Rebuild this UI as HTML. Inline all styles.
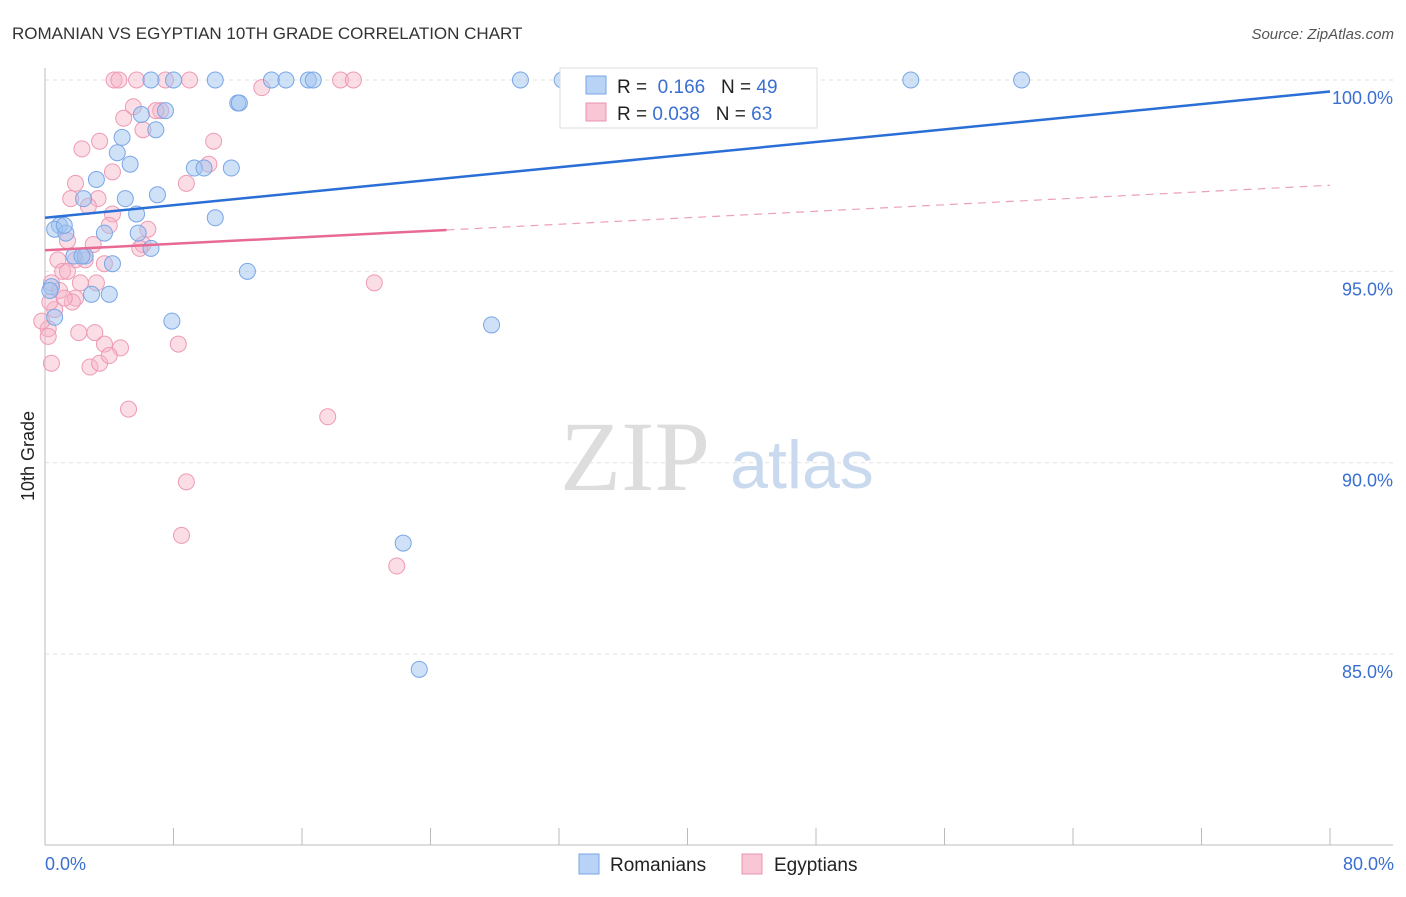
<!DOCTYPE html>
<html><head><meta charset="utf-8"><style>
body{margin:0;background:#fff;font-family:"Liberation Sans",sans-serif;}
svg text{font-family:"Liberation Sans",sans-serif;}
</style></head><body>
<svg width="1406" height="892">
<text x="12" y="39" font-size="17" fill="#333">ROMANIAN VS EGYPTIAN 10TH GRADE CORRELATION CHART</text>
<text x="1394" y="39" font-size="15" fill="#555" font-style="italic" text-anchor="end">Source: ZipAtlas.com</text>
<g id="grid"></g>
<text x="635" y="490" font-size="100" fill="#ddd" style="font-family:'Liberation Serif',serif" text-anchor="middle">ZIP</text>
<text x="802" y="488" font-size="68" fill="#c9d9ee" text-anchor="middle">atlas</text>
<line x1="45" y1="68" x2="45" y2="845" stroke="#bbb"/>
<line x1="45" y1="845" x2="1393" y2="845" stroke="#bbb"/>
<g id="pts"></g>
<g id="lines"></g>
<text x="45" y="870" font-size="18" fill="#3a6fd0">0.0%</text>
<text x="1394" y="870" font-size="18" fill="#3a6fd0" text-anchor="end">80.0%</text>
<text x="34" y="456" font-size="18" fill="#222" transform="rotate(-90 34 456)" text-anchor="middle">10th Grade</text>
<g>
<rect x="560" y="68" width="257" height="60" fill="#fff" stroke="#ddd"/>
<rect x="586" y="76" width="20" height="18" fill="#b8d3f5" stroke="#7aa6e6"/>
<rect x="586" y="103" width="20" height="18" fill="#f9c6d5" stroke="#ec93ad"/>
<text x="617" y="93" font-size="19" fill="#222">R = <tspan fill="#3a6fd0">&#160;0.166</tspan>&#160;&#160;&#160;N = <tspan fill="#3a6fd0">49</tspan></text>
<text x="617" y="120" font-size="19" fill="#222">R = <tspan fill="#3a6fd0">0.038</tspan>&#160;&#160;&#160;N = <tspan fill="#3a6fd0">63</tspan></text>
</g>
<g>
<rect x="579" y="854" width="20" height="20" fill="#b8d3f5" stroke="#7aa6e6"/>
<text x="610" y="871" font-size="19" fill="#222">Romanians</text>
<rect x="742" y="854" width="20" height="20" fill="#f9c6d5" stroke="#ec93ad"/>
<text x="774" y="871" font-size="19" fill="#222">Egyptians</text>
</g>
</svg>
<script>
const yTicks=[85,90,95,100];
const xTickCount=10;
const romX=[6.6,8.0,10.6,14.1,15.0,16.4,16.7,29.6,32.2,53.9,60.8,12.0,12.1,7.5,6.0,4.8,6.9,4.5,5.3,9.3,9.9,11.6,3.2,7.0,2.4,5.0,10.6,5.7,0.9,0.6,1.3,3.7,5.8,6.6,1.8,2.5,4.2,12.6,0.4,2.9,4.0,7.9,27.8,0.6,22.3,23.3,0.3,2.3,1.2];
const romY=[100,100,100,100,100,100,100,100,100,100,100,99.4,99.4,99.2,99.1,98.5,98.7,98.1,97.8,97.7,97.7,97.7,97.4,97.0,96.9,96.9,96.4,96.5,96.2,96.1,96.0,96.0,96.0,95.6,95.4,95.4,95.2,95.0,94.6,94.4,94.4,93.7,93.6,93.8,87.9,84.6,94.5,95.4,96.2];
const egyX=[4.3,4.6,5.7,7.5,9.0,13.5,18.4,19.2,5.5,7.2,4.9,6.1,10.5,3.4,2.3,10.2,4.2,1.9,8.8,1.6,3.3,2.7,4.2,4.0,6.4,1.4,3.0,6.1,0.8,1.9,2.5,3.7,1.1,1.4,2.2,3.2,20.5,0.4,0.9,1.9,1.7,0.6,0.2,2.1,3.1,0.2,3.7,4.7,8.3,0.4,2.8,3.4,5.2,17.6,8.8,8.5,21.9,0.3,1.2,-0.2,4.0,5.9,6.9];
const egyY=[100,100,100,100,100,99.8,100,100,99.3,99.2,99.0,98.7,98.4,98.4,98.2,97.8,97.6,97.3,97.3,96.9,96.9,96.7,96.5,96.2,96.1,95.8,95.7,95.7,95.3,95.3,95.3,95.2,95.0,95.0,94.7,94.7,94.7,94.7,94.5,94.3,94.2,94.0,93.5,93.4,93.4,93.3,93.1,93.0,93.1,92.6,92.5,92.6,91.4,91.2,89.5,88.1,87.3,94.2,94.3,93.7,92.8,95.6,99.2];
const romFit=[96.4,99.7];
const egyFit=[95.55,97.25];
const X=v=>45+v/80*1285, Y=v=>80+(100-v)*38.27;
const NS='http://www.w3.org/2000/svg';
const grid=document.getElementById('grid');
yTicks.forEach(t=>{
 const l=document.createElementNS(NS,'line');
 l.setAttribute('x1',45);l.setAttribute('x2',1393);l.setAttribute('y1',Y(t));l.setAttribute('y2',Y(t));
 l.setAttribute('stroke','#e2e2e2');l.setAttribute('stroke-dasharray','4,4');
 
 
 grid.appendChild(l);
 const tx=document.createElementNS(NS,'text');
 tx.setAttribute('x',1393);tx.setAttribute('y',Y(t)+24);tx.setAttribute('text-anchor','end');
 tx.setAttribute('font-size','18');tx.setAttribute('fill','#3a6fd0');tx.textContent=t.toFixed(1)+'%';
 
 
 grid.appendChild(tx);
});
for(let i=0;i<=xTickCount;i++){
 const l=document.createElementNS(NS,'line');
 const x=X(i*80/xTickCount);
 l.setAttribute('x1',x);l.setAttribute('x2',x);l.setAttribute('y1',828);l.setAttribute('y2',845);
 l.setAttribute('stroke','#bbb');
 
 
 grid.appendChild(l);
}
const pts=document.getElementById('pts');
function dots(xs,ys,fill,stroke,name){
 xs.forEach((x,i)=>{
  const c=document.createElementNS(NS,'circle');
  c.setAttribute('cx',X(x));c.setAttribute('cy',Y(ys[i]));c.setAttribute('r',8);
  c.setAttribute('fill',fill);c.setAttribute('stroke',stroke);c.setAttribute('stroke-width','1');
  
  
  pts.appendChild(c);
 });
}
dots(egyX,egyY,'rgba(246,180,200,0.45)','#ee9ab4','egyptian-point');
dots(romX,romY,'rgba(160,195,240,0.5)','#7aa6e6','romanian-point');
const lines=document.getElementById('lines');
function ln(x1,y1,x2,y2,col,w,dash,name){
 const l=document.createElementNS(NS,'line');
 l.setAttribute('x1',X(x1));l.setAttribute('y1',Y(y1));l.setAttribute('x2',X(x2));l.setAttribute('y2',Y(y2));
 l.setAttribute('stroke',col);l.setAttribute('stroke-width',w);if(dash)l.setAttribute('stroke-dasharray',dash);
 
 
 lines.appendChild(l);
}
ln(0,romFit[0],80,romFit[1],'#2a6fd6',2.5,null,'romanian-trend-line');
const em=y=>egyFit[0]+(egyFit[1]-egyFit[0])*y/80;
ln(0,em(0),25,em(25),'#e86a94',2.5,null,'egyptian-trend-line');
ln(25,em(25),80,em(80),'#eea0b8',1.2,'8,6','egyptian-trend-extension');
</script>
</body></html>
